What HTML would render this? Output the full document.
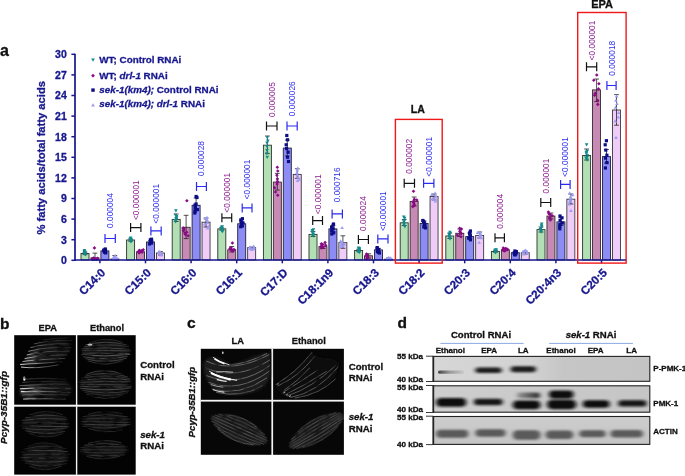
<!DOCTYPE html>
<html><head><meta charset="utf-8"><title>Figure</title>
<style>
html,body{margin:0;padding:0;background:#fff;}
body{width:685px;height:476px;overflow:hidden;}
svg{display:block;}
text{font-family:"Liberation Sans",sans-serif;}
.b{font-weight:bold;}
text.b[fill="#111"]{stroke:#111;stroke-width:.3px;}
text.b[fill="#17178f"]{stroke:#17178f;stroke-width:.3px;}
.i{font-style:italic;}
</style></head><body>
<svg width="685" height="476" viewBox="0 0 685 476">
<defs>
<filter id="bl1" x="-20%" y="-20%" width="140%" height="140%"><feGaussianBlur stdDeviation="0.6"/></filter>
<filter id="bl2" x="-20%" y="-50%" width="140%" height="200%"><feGaussianBlur stdDeviation="1.6"/></filter>
<filter id="bl3" x="-20%" y="-50%" width="140%" height="200%"><feGaussianBlur stdDeviation="2.0 1.0"/></filter>
</defs>
<rect width="685" height="476" fill="#fff"/>
<g id="panel-a">
<rect x="81.00" y="253.50" width="8" height="6.50" fill="#b2e0b4" stroke="#2c322c" stroke-width="0.9"/><rect x="90.95" y="257.90" width="8" height="2.10" fill="#c68ab4" stroke="#352830" stroke-width="0.9"/><rect x="100.90" y="250.90" width="8" height="9.10" fill="#8c8cf4" stroke="#20203c" stroke-width="0.9"/><rect x="110.85" y="259.00" width="8" height="1.00" fill="#f0cdf8" stroke="#3c3642" stroke-width="0.9"/><path d="M85.0 252.2V254.6M82.6 252.2h4.8M82.6 254.6h4.8" stroke="#1a1a1a" stroke-width="0.75" fill="none"/><path d="M82.6 249.1h3.6l-1.8 3.1z" fill="#128a8c"/><path d="M82.5 249.9h3.6l-1.8 3.1z" fill="#128a8c"/><path d="M83.0 250.6h3.6l-1.8 3.1z" fill="#128a8c"/><path d="M83.2 251.1h3.6l-1.8 3.1z" fill="#128a8c"/><path d="M83.1 251.9h3.6l-1.8 3.1z" fill="#128a8c"/><path d="M82.5 252.6h3.6l-1.8 3.1z" fill="#128a8c"/><path d="M83.7 253.5h3.6l-1.8 3.1z" fill="#128a8c"/><path d="M95.0 253.1V260.0M92.5 253.1h4.8M92.5 260.0h4.8" stroke="#1a1a1a" stroke-width="0.75" fill="none"/><path d="M93.4 256.2l1.8 1.8l-1.8 1.8l-1.8 -1.8z" fill="#8a0a86"/><path d="M97.5 256.5l1.8 1.8l-1.8 1.8l-1.8 -1.8z" fill="#8a0a86"/><path d="M94.4 256.7l1.8 1.8l-1.8 1.8l-1.8 -1.8z" fill="#8a0a86"/><path d="M92.4 257.0l1.8 1.8l-1.8 1.8l-1.8 -1.8z" fill="#8a0a86"/><path d="M93.8 257.3l1.8 1.8l-1.8 1.8l-1.8 -1.8z" fill="#8a0a86"/><path d="M92.8 257.4l1.8 1.8l-1.8 1.8l-1.8 -1.8z" fill="#8a0a86"/><path d="M96.7 257.7l1.8 1.8l-1.8 1.8l-1.8 -1.8z" fill="#8a0a86"/><path d="M94.4 246.1l1.8 1.8l-1.8 1.8l-1.8 -1.8z" fill="#8a0a86"/><path d="M104.9 249.8V252.2M102.5 249.8h4.8M102.5 252.2h4.8" stroke="#1a1a1a" stroke-width="0.75" fill="none"/><rect x="103.7" y="247.4" width="3.2" height="3.2" fill="#0c0c86"/><rect x="103.4" y="248.0" width="3.2" height="3.2" fill="#0c0c86"/><rect x="102.1" y="248.6" width="3.2" height="3.2" fill="#0c0c86"/><rect x="103.8" y="249.3" width="3.2" height="3.2" fill="#0c0c86"/><rect x="102.8" y="250.0" width="3.2" height="3.2" fill="#0c0c86"/><rect x="103.2" y="250.8" width="3.2" height="3.2" fill="#0c0c86"/><rect x="104.1" y="251.3" width="3.2" height="3.2" fill="#0c0c86"/><path d="M114.8 255.5V260.0M112.4 255.5h4.8M112.4 260.0h4.8" stroke="#1a1a1a" stroke-width="0.75" fill="none"/><path d="M111.8 258.5h3.6l-1.8 -3.1z" fill="#9c9cf2"/><path d="M113.2 258.9h3.6l-1.8 -3.1z" fill="#9c9cf2"/><path d="M114.2 259.4h3.6l-1.8 -3.1z" fill="#9c9cf2"/><path d="M115.4 259.6h3.6l-1.8 -3.1z" fill="#9c9cf2"/><path d="M112.7 260.0h3.6l-1.8 -3.1z" fill="#9c9cf2"/><path d="M111.4 260.6h3.6l-1.8 -3.1z" fill="#9c9cf2"/><path d="M110.8 260.9h3.6l-1.8 -3.1z" fill="#9c9cf2"/><path d="M113.3 256.9h3.6l-1.8 -3.1z" fill="#9c9cf2"/>
<rect x="126.60" y="240.00" width="8" height="20.00" fill="#b2e0b4" stroke="#2c322c" stroke-width="0.9"/><rect x="136.55" y="251.80" width="8" height="8.20" fill="#c68ab4" stroke="#352830" stroke-width="0.9"/><rect x="146.50" y="242.00" width="8" height="18.00" fill="#8c8cf4" stroke="#20203c" stroke-width="0.9"/><rect x="156.45" y="253.00" width="8" height="7.00" fill="#f0cdf8" stroke="#3c3642" stroke-width="0.9"/><path d="M130.6 239.0V241.2M128.2 239.0h4.8M128.2 241.2h4.8" stroke="#1a1a1a" stroke-width="0.75" fill="none"/><path d="M128.9 236.5h3.6l-1.8 3.1z" fill="#128a8c"/><path d="M128.5 237.2h3.6l-1.8 3.1z" fill="#128a8c"/><path d="M129.0 237.8h3.6l-1.8 3.1z" fill="#128a8c"/><path d="M128.7 238.5h3.6l-1.8 3.1z" fill="#128a8c"/><path d="M129.5 239.3h3.6l-1.8 3.1z" fill="#128a8c"/><path d="M129.1 239.8h3.6l-1.8 3.1z" fill="#128a8c"/><path d="M129.1 240.4h3.6l-1.8 3.1z" fill="#128a8c"/><path d="M140.5 250.4V252.4M138.1 250.4h4.8M138.1 252.4h4.8" stroke="#1a1a1a" stroke-width="0.75" fill="none"/><path d="M143.3 248.0l1.8 1.8l-1.8 1.8l-1.8 -1.8z" fill="#8a0a86"/><path d="M139.3 248.6l1.8 1.8l-1.8 1.8l-1.8 -1.8z" fill="#8a0a86"/><path d="M141.5 249.0l1.8 1.8l-1.8 1.8l-1.8 -1.8z" fill="#8a0a86"/><path d="M140.3 249.4l1.8 1.8l-1.8 1.8l-1.8 -1.8z" fill="#8a0a86"/><path d="M138.4 250.0l1.8 1.8l-1.8 1.8l-1.8 -1.8z" fill="#8a0a86"/><path d="M142.1 250.5l1.8 1.8l-1.8 1.8l-1.8 -1.8z" fill="#8a0a86"/><path d="M139.1 251.1l1.8 1.8l-1.8 1.8l-1.8 -1.8z" fill="#8a0a86"/><path d="M150.5 240.4V242.8M148.1 240.4h4.8M148.1 242.8h4.8" stroke="#1a1a1a" stroke-width="0.75" fill="none"/><rect x="149.9" y="237.6" width="3.2" height="3.2" fill="#0c0c86"/><rect x="148.8" y="238.2" width="3.2" height="3.2" fill="#0c0c86"/><rect x="150.0" y="239.2" width="3.2" height="3.2" fill="#0c0c86"/><rect x="149.9" y="240.2" width="3.2" height="3.2" fill="#0c0c86"/><rect x="148.7" y="240.7" width="3.2" height="3.2" fill="#0c0c86"/><rect x="150.0" y="241.5" width="3.2" height="3.2" fill="#0c0c86"/><rect x="147.9" y="242.4" width="3.2" height="3.2" fill="#0c0c86"/><path d="M160.4 251.5V255.0M158.0 251.5h4.8M158.0 255.0h4.8" stroke="#1a1a1a" stroke-width="0.75" fill="none"/><path d="M157.4 252.9h3.6l-1.8 -3.1z" fill="#9c9cf2"/><path d="M158.6 253.4h3.6l-1.8 -3.1z" fill="#9c9cf2"/><path d="M157.5 254.1h3.6l-1.8 -3.1z" fill="#9c9cf2"/><path d="M158.3 254.5h3.6l-1.8 -3.1z" fill="#9c9cf2"/><path d="M159.0 255.2h3.6l-1.8 -3.1z" fill="#9c9cf2"/><path d="M159.6 256.0h3.6l-1.8 -3.1z" fill="#9c9cf2"/><path d="M159.2 256.4h3.6l-1.8 -3.1z" fill="#9c9cf2"/>
<rect x="172.20" y="219.40" width="8" height="40.60" fill="#b2e0b4" stroke="#2c322c" stroke-width="0.9"/><rect x="182.15" y="227.30" width="8" height="32.70" fill="#c68ab4" stroke="#352830" stroke-width="0.9"/><rect x="192.10" y="205.30" width="8" height="54.70" fill="#8c8cf4" stroke="#20203c" stroke-width="0.9"/><rect x="202.05" y="222.20" width="8" height="37.80" fill="#f0cdf8" stroke="#3c3642" stroke-width="0.9"/><path d="M176.2 214.0V221.5M173.8 214.0h4.8M173.8 221.5h4.8" stroke="#1a1a1a" stroke-width="0.75" fill="none"/><path d="M173.7 213.7h3.6l-1.8 3.1z" fill="#128a8c"/><path d="M174.8 215.0h3.6l-1.8 3.1z" fill="#128a8c"/><path d="M174.9 216.2h3.6l-1.8 3.1z" fill="#128a8c"/><path d="M174.2 217.0h3.6l-1.8 3.1z" fill="#128a8c"/><path d="M174.6 217.9h3.6l-1.8 3.1z" fill="#128a8c"/><path d="M173.7 219.1h3.6l-1.8 3.1z" fill="#128a8c"/><path d="M173.9 220.4h3.6l-1.8 3.1z" fill="#128a8c"/><path d="M174.1 209.3h3.6l-1.8 3.1z" fill="#128a8c"/><path d="M186.1 215.3V238.6M183.7 215.3h4.8M183.7 238.6h4.8" stroke="#1a1a1a" stroke-width="0.75" fill="none"/><path d="M183.4 226.2l1.8 1.8l-1.8 1.8l-1.8 -1.8z" fill="#8a0a86"/><path d="M183.9 227.3l1.8 1.8l-1.8 1.8l-1.8 -1.8z" fill="#8a0a86"/><path d="M183.5 228.8l1.8 1.8l-1.8 1.8l-1.8 -1.8z" fill="#8a0a86"/><path d="M186.8 230.5l1.8 1.8l-1.8 1.8l-1.8 -1.8z" fill="#8a0a86"/><path d="M184.8 231.3l1.8 1.8l-1.8 1.8l-1.8 -1.8z" fill="#8a0a86"/><path d="M185.4 232.7l1.8 1.8l-1.8 1.8l-1.8 -1.8z" fill="#8a0a86"/><path d="M188.1 233.9l1.8 1.8l-1.8 1.8l-1.8 -1.8z" fill="#8a0a86"/><path d="M186.9 198.9l1.8 1.8l-1.8 1.8l-1.8 -1.8z" fill="#8a0a86"/><path d="M196.1 198.0V210.5M193.7 198.0h4.8M193.7 210.5h4.8" stroke="#1a1a1a" stroke-width="0.75" fill="none"/><rect x="194.5" y="202.4" width="3.2" height="3.2" fill="#0c0c86"/><rect x="193.4" y="203.5" width="3.2" height="3.2" fill="#0c0c86"/><rect x="193.8" y="205.3" width="3.2" height="3.2" fill="#0c0c86"/><rect x="193.6" y="207.2" width="3.2" height="3.2" fill="#0c0c86"/><rect x="195.8" y="208.0" width="3.2" height="3.2" fill="#0c0c86"/><rect x="193.5" y="209.9" width="3.2" height="3.2" fill="#0c0c86"/><rect x="193.2" y="211.4" width="3.2" height="3.2" fill="#0c0c86"/><rect x="194.5" y="194.9" width="3.2" height="3.2" fill="#0c0c86"/><rect x="195.3" y="195.9" width="3.2" height="3.2" fill="#0c0c86"/><path d="M206.0 218.0V227.0M203.6 218.0h4.8M203.6 227.0h4.8" stroke="#1a1a1a" stroke-width="0.75" fill="none"/><path d="M205.2 218.8h3.6l-1.8 -3.1z" fill="#9c9cf2"/><path d="M203.6 220.0h3.6l-1.8 -3.1z" fill="#9c9cf2"/><path d="M205.6 221.7h3.6l-1.8 -3.1z" fill="#9c9cf2"/><path d="M205.6 224.0h3.6l-1.8 -3.1z" fill="#9c9cf2"/><path d="M202.9 225.6h3.6l-1.8 -3.1z" fill="#9c9cf2"/><path d="M206.6 227.9h3.6l-1.8 -3.1z" fill="#9c9cf2"/><path d="M205.7 229.4h3.6l-1.8 -3.1z" fill="#9c9cf2"/>
<rect x="217.80" y="228.90" width="8" height="31.10" fill="#b2e0b4" stroke="#2c322c" stroke-width="0.9"/><rect x="227.75" y="249.80" width="8" height="10.20" fill="#c68ab4" stroke="#352830" stroke-width="0.9"/><rect x="237.70" y="223.80" width="8" height="36.20" fill="#8c8cf4" stroke="#20203c" stroke-width="0.9"/><rect x="247.65" y="247.60" width="8" height="12.40" fill="#f0cdf8" stroke="#3c3642" stroke-width="0.9"/><path d="M221.8 227.8V230.0M219.4 227.8h4.8M219.4 230.0h4.8" stroke="#1a1a1a" stroke-width="0.75" fill="none"/><path d="M220.4 225.2h3.6l-1.8 3.1z" fill="#128a8c"/><path d="M220.0 225.8h3.6l-1.8 3.1z" fill="#128a8c"/><path d="M219.2 226.7h3.6l-1.8 3.1z" fill="#128a8c"/><path d="M219.6 227.3h3.6l-1.8 3.1z" fill="#128a8c"/><path d="M220.3 228.3h3.6l-1.8 3.1z" fill="#128a8c"/><path d="M219.9 229.5h3.6l-1.8 3.1z" fill="#128a8c"/><path d="M220.8 230.1h3.6l-1.8 3.1z" fill="#128a8c"/><path d="M231.8 246.5V252.0M229.3 246.5h4.8M229.3 252.0h4.8" stroke="#1a1a1a" stroke-width="0.75" fill="none"/><path d="M231.0 246.3l1.8 1.8l-1.8 1.8l-1.8 -1.8z" fill="#8a0a86"/><path d="M230.2 246.6l1.8 1.8l-1.8 1.8l-1.8 -1.8z" fill="#8a0a86"/><path d="M230.1 247.1l1.8 1.8l-1.8 1.8l-1.8 -1.8z" fill="#8a0a86"/><path d="M234.0 247.7l1.8 1.8l-1.8 1.8l-1.8 -1.8z" fill="#8a0a86"/><path d="M231.6 248.3l1.8 1.8l-1.8 1.8l-1.8 -1.8z" fill="#8a0a86"/><path d="M233.4 248.7l1.8 1.8l-1.8 1.8l-1.8 -1.8z" fill="#8a0a86"/><path d="M232.6 249.1l1.8 1.8l-1.8 1.8l-1.8 -1.8z" fill="#8a0a86"/><path d="M232.4 241.2l1.8 1.8l-1.8 1.8l-1.8 -1.8z" fill="#8a0a86"/><path d="M241.7 222.0V226.5M239.3 222.0h4.8M239.3 226.5h4.8" stroke="#1a1a1a" stroke-width="0.75" fill="none"/><rect x="240.8" y="217.1" width="3.2" height="3.2" fill="#0c0c86"/><rect x="239.2" y="218.3" width="3.2" height="3.2" fill="#0c0c86"/><rect x="239.6" y="220.0" width="3.2" height="3.2" fill="#0c0c86"/><rect x="241.4" y="221.4" width="3.2" height="3.2" fill="#0c0c86"/><rect x="239.8" y="222.5" width="3.2" height="3.2" fill="#0c0c86"/><rect x="240.7" y="224.4" width="3.2" height="3.2" fill="#0c0c86"/><rect x="239.1" y="225.1" width="3.2" height="3.2" fill="#0c0c86"/><path d="M251.7 247.0V249.0M249.2 247.0h4.8M249.2 249.0h4.8" stroke="#1a1a1a" stroke-width="0.75" fill="none"/><path d="M251.8 247.6h3.6l-1.8 -3.1z" fill="#9c9cf2"/><path d="M248.2 248.3h3.6l-1.8 -3.1z" fill="#9c9cf2"/><path d="M252.2 248.8h3.6l-1.8 -3.1z" fill="#9c9cf2"/><path d="M249.1 249.3h3.6l-1.8 -3.1z" fill="#9c9cf2"/><path d="M248.1 249.9h3.6l-1.8 -3.1z" fill="#9c9cf2"/><path d="M252.1 250.2h3.6l-1.8 -3.1z" fill="#9c9cf2"/><path d="M250.0 250.9h3.6l-1.8 -3.1z" fill="#9c9cf2"/>
<rect x="263.40" y="145.20" width="8" height="114.80" fill="#b2e0b4" stroke="#2c322c" stroke-width="0.9"/><rect x="273.35" y="182.10" width="8" height="77.90" fill="#c68ab4" stroke="#352830" stroke-width="0.9"/><rect x="283.30" y="148.10" width="8" height="111.90" fill="#8c8cf4" stroke="#20203c" stroke-width="0.9"/><rect x="293.25" y="174.40" width="8" height="85.60" fill="#f0cdf8" stroke="#3c3642" stroke-width="0.9"/><path d="M267.4 136.0V153.6M265.0 136.0h4.8M265.0 153.6h4.8" stroke="#1a1a1a" stroke-width="0.75" fill="none"/><path d="M265.5 136.2h3.6l-1.8 3.1z" fill="#128a8c"/><path d="M266.1 139.5h3.6l-1.8 3.1z" fill="#128a8c"/><path d="M265.2 141.6h3.6l-1.8 3.1z" fill="#128a8c"/><path d="M265.2 145.1h3.6l-1.8 3.1z" fill="#128a8c"/><path d="M265.2 149.1h3.6l-1.8 3.1z" fill="#128a8c"/><path d="M265.0 152.2h3.6l-1.8 3.1z" fill="#128a8c"/><path d="M265.4 155.8h3.6l-1.8 3.1z" fill="#128a8c"/><path d="M277.3 173.4V190.1M274.9 173.4h4.8M274.9 190.1h4.8" stroke="#1a1a1a" stroke-width="0.75" fill="none"/><path d="M277.8 169.2l1.8 1.8l-1.8 1.8l-1.8 -1.8z" fill="#8a0a86"/><path d="M276.9 173.5l1.8 1.8l-1.8 1.8l-1.8 -1.8z" fill="#8a0a86"/><path d="M277.4 177.1l1.8 1.8l-1.8 1.8l-1.8 -1.8z" fill="#8a0a86"/><path d="M277.5 179.8l1.8 1.8l-1.8 1.8l-1.8 -1.8z" fill="#8a0a86"/><path d="M277.0 182.2l1.8 1.8l-1.8 1.8l-1.8 -1.8z" fill="#8a0a86"/><path d="M274.6 186.0l1.8 1.8l-1.8 1.8l-1.8 -1.8z" fill="#8a0a86"/><path d="M275.5 190.2l1.8 1.8l-1.8 1.8l-1.8 -1.8z" fill="#8a0a86"/><path d="M277.3 165.5l1.8 1.8l-1.8 1.8l-1.8 -1.8z" fill="#8a0a86"/><path d="M277.7 193.4l1.8 1.8l-1.8 1.8l-1.8 -1.8z" fill="#8a0a86"/><path d="M287.3 140.0V156.0M284.9 140.0h4.8M284.9 156.0h4.8" stroke="#1a1a1a" stroke-width="0.75" fill="none"/><rect x="285.2" y="133.9" width="3.2" height="3.2" fill="#0c0c86"/><rect x="285.9" y="138.2" width="3.2" height="3.2" fill="#0c0c86"/><rect x="284.6" y="143.2" width="3.2" height="3.2" fill="#0c0c86"/><rect x="285.0" y="147.0" width="3.2" height="3.2" fill="#0c0c86"/><rect x="286.5" y="150.6" width="3.2" height="3.2" fill="#0c0c86"/><rect x="285.9" y="155.6" width="3.2" height="3.2" fill="#0c0c86"/><rect x="286.9" y="159.9" width="3.2" height="3.2" fill="#0c0c86"/><path d="M297.2 168.7V178.4M294.9 168.7h4.8M294.9 178.4h4.8" stroke="#1a1a1a" stroke-width="0.75" fill="none"/><path d="M296.0 169.4h3.6l-1.8 -3.1z" fill="#9c9cf2"/><path d="M295.5 171.6h3.6l-1.8 -3.1z" fill="#9c9cf2"/><path d="M295.2 174.0h3.6l-1.8 -3.1z" fill="#9c9cf2"/><path d="M295.3 176.0h3.6l-1.8 -3.1z" fill="#9c9cf2"/><path d="M296.4 178.7h3.6l-1.8 -3.1z" fill="#9c9cf2"/><path d="M297.6 180.8h3.6l-1.8 -3.1z" fill="#9c9cf2"/><path d="M295.7 182.1h3.6l-1.8 -3.1z" fill="#9c9cf2"/>
<rect x="309.00" y="234.40" width="8" height="25.60" fill="#b2e0b4" stroke="#2c322c" stroke-width="0.9"/><rect x="318.95" y="246.60" width="8" height="13.40" fill="#c68ab4" stroke="#352830" stroke-width="0.9"/><rect x="328.90" y="228.90" width="8" height="31.10" fill="#8c8cf4" stroke="#20203c" stroke-width="0.9"/><rect x="338.85" y="242.60" width="8" height="17.40" fill="#f0cdf8" stroke="#3c3642" stroke-width="0.9"/><path d="M313.0 231.5V236.5M310.6 231.5h4.8M310.6 236.5h4.8" stroke="#1a1a1a" stroke-width="0.75" fill="none"/><path d="M311.7 228.3h3.6l-1.8 3.1z" fill="#128a8c"/><path d="M310.6 228.9h3.6l-1.8 3.1z" fill="#128a8c"/><path d="M310.5 230.2h3.6l-1.8 3.1z" fill="#128a8c"/><path d="M310.5 231.1h3.6l-1.8 3.1z" fill="#128a8c"/><path d="M311.7 232.5h3.6l-1.8 3.1z" fill="#128a8c"/><path d="M310.6 233.7h3.6l-1.8 3.1z" fill="#128a8c"/><path d="M311.5 234.6h3.6l-1.8 3.1z" fill="#128a8c"/><path d="M322.9 244.0V248.5M320.6 244.0h4.8M320.6 248.5h4.8" stroke="#1a1a1a" stroke-width="0.75" fill="none"/><path d="M325.1 240.7l1.8 1.8l-1.8 1.8l-1.8 -1.8z" fill="#8a0a86"/><path d="M321.4 241.9l1.8 1.8l-1.8 1.8l-1.8 -1.8z" fill="#8a0a86"/><path d="M322.4 242.8l1.8 1.8l-1.8 1.8l-1.8 -1.8z" fill="#8a0a86"/><path d="M325.7 243.4l1.8 1.8l-1.8 1.8l-1.8 -1.8z" fill="#8a0a86"/><path d="M321.1 244.5l1.8 1.8l-1.8 1.8l-1.8 -1.8z" fill="#8a0a86"/><path d="M323.0 245.2l1.8 1.8l-1.8 1.8l-1.8 -1.8z" fill="#8a0a86"/><path d="M321.2 246.1l1.8 1.8l-1.8 1.8l-1.8 -1.8z" fill="#8a0a86"/><path d="M332.9 225.5V232.0M330.5 225.5h4.8M330.5 232.0h4.8" stroke="#1a1a1a" stroke-width="0.75" fill="none"/><rect x="331.9" y="222.4" width="3.2" height="3.2" fill="#0c0c86"/><rect x="331.5" y="223.6" width="3.2" height="3.2" fill="#0c0c86"/><rect x="330.0" y="225.7" width="3.2" height="3.2" fill="#0c0c86"/><rect x="331.6" y="227.2" width="3.2" height="3.2" fill="#0c0c86"/><rect x="330.1" y="229.1" width="3.2" height="3.2" fill="#0c0c86"/><rect x="332.1" y="231.2" width="3.2" height="3.2" fill="#0c0c86"/><rect x="330.2" y="232.4" width="3.2" height="3.2" fill="#0c0c86"/><path d="M342.9 235.8V248.3M340.5 235.8h4.8M340.5 248.3h4.8" stroke="#1a1a1a" stroke-width="0.75" fill="none"/><path d="M338.8 242.4h3.6l-1.8 -3.1z" fill="#9c9cf2"/><path d="M339.9 243.5h3.6l-1.8 -3.1z" fill="#9c9cf2"/><path d="M340.7 244.1h3.6l-1.8 -3.1z" fill="#9c9cf2"/><path d="M342.6 245.4h3.6l-1.8 -3.1z" fill="#9c9cf2"/><path d="M339.4 246.0h3.6l-1.8 -3.1z" fill="#9c9cf2"/><path d="M341.4 247.3h3.6l-1.8 -3.1z" fill="#9c9cf2"/><path d="M339.1 247.9h3.6l-1.8 -3.1z" fill="#9c9cf2"/><path d="M340.3 229.1h3.6l-1.8 -3.1z" fill="#9c9cf2"/>
<rect x="354.60" y="250.50" width="8" height="9.50" fill="#b2e0b4" stroke="#2c322c" stroke-width="0.9"/><rect x="364.55" y="255.80" width="8" height="4.20" fill="#c68ab4" stroke="#352830" stroke-width="0.9"/><rect x="374.50" y="249.90" width="8" height="10.10" fill="#8c8cf4" stroke="#20203c" stroke-width="0.9"/><rect x="384.45" y="259.20" width="8" height="0.80" fill="#f0cdf8" stroke="#3c3642" stroke-width="0.9"/><path d="M358.6 249.3V251.8M356.2 249.3h4.8M356.2 251.8h4.8" stroke="#1a1a1a" stroke-width="0.75" fill="none"/><path d="M356.7 246.6h3.6l-1.8 3.1z" fill="#128a8c"/><path d="M357.5 247.1h3.6l-1.8 3.1z" fill="#128a8c"/><path d="M357.3 248.1h3.6l-1.8 3.1z" fill="#128a8c"/><path d="M357.4 248.6h3.6l-1.8 3.1z" fill="#128a8c"/><path d="M357.4 249.4h3.6l-1.8 3.1z" fill="#128a8c"/><path d="M356.5 250.3h3.6l-1.8 3.1z" fill="#128a8c"/><path d="M357.5 251.1h3.6l-1.8 3.1z" fill="#128a8c"/><path d="M368.6 253.8V258.0M366.2 253.8h4.8M366.2 258.0h4.8" stroke="#1a1a1a" stroke-width="0.75" fill="none"/><path d="M366.5 252.2l1.8 1.8l-1.8 1.8l-1.8 -1.8z" fill="#8a0a86"/><path d="M367.1 253.0l1.8 1.8l-1.8 1.8l-1.8 -1.8z" fill="#8a0a86"/><path d="M366.7 253.7l1.8 1.8l-1.8 1.8l-1.8 -1.8z" fill="#8a0a86"/><path d="M366.9 254.5l1.8 1.8l-1.8 1.8l-1.8 -1.8z" fill="#8a0a86"/><path d="M367.5 255.4l1.8 1.8l-1.8 1.8l-1.8 -1.8z" fill="#8a0a86"/><path d="M367.4 256.5l1.8 1.8l-1.8 1.8l-1.8 -1.8z" fill="#8a0a86"/><path d="M366.7 257.2l1.8 1.8l-1.8 1.8l-1.8 -1.8z" fill="#8a0a86"/><path d="M378.5 248.4V251.2M376.1 248.4h4.8M376.1 251.2h4.8" stroke="#1a1a1a" stroke-width="0.75" fill="none"/><rect x="375.6" y="246.0" width="3.2" height="3.2" fill="#0c0c86"/><rect x="375.5" y="246.8" width="3.2" height="3.2" fill="#0c0c86"/><rect x="377.0" y="247.9" width="3.2" height="3.2" fill="#0c0c86"/><rect x="376.8" y="248.5" width="3.2" height="3.2" fill="#0c0c86"/><rect x="375.8" y="249.8" width="3.2" height="3.2" fill="#0c0c86"/><rect x="376.7" y="250.7" width="3.2" height="3.2" fill="#0c0c86"/><rect x="377.8" y="251.4" width="3.2" height="3.2" fill="#0c0c86"/><path d="M388.5 258.0V260.0M386.1 258.0h4.8M386.1 260.0h4.8" stroke="#1a1a1a" stroke-width="0.75" fill="none"/><path d="M386.7 258.9h3.6l-1.8 -3.1z" fill="#9c9cf2"/><path d="M389.0 259.4h3.6l-1.8 -3.1z" fill="#9c9cf2"/><path d="M388.2 259.7h3.6l-1.8 -3.1z" fill="#9c9cf2"/><path d="M387.3 260.1h3.6l-1.8 -3.1z" fill="#9c9cf2"/><path d="M385.9 260.5h3.6l-1.8 -3.1z" fill="#9c9cf2"/><path d="M384.9 260.8h3.6l-1.8 -3.1z" fill="#9c9cf2"/><path d="M387.8 260.9h3.6l-1.8 -3.1z" fill="#9c9cf2"/>
<rect x="400.20" y="222.80" width="8" height="37.20" fill="#b2e0b4" stroke="#2c322c" stroke-width="0.9"/><rect x="410.15" y="201.40" width="8" height="58.60" fill="#c68ab4" stroke="#352830" stroke-width="0.9"/><rect x="420.10" y="223.40" width="8" height="36.60" fill="#8c8cf4" stroke="#20203c" stroke-width="0.9"/><rect x="430.05" y="196.50" width="8" height="63.50" fill="#f0cdf8" stroke="#3c3642" stroke-width="0.9"/><path d="M404.2 219.5V225.5M401.8 219.5h4.8M401.8 225.5h4.8" stroke="#1a1a1a" stroke-width="0.75" fill="none"/><path d="M401.9 215.6h3.6l-1.8 3.1z" fill="#128a8c"/><path d="M402.9 216.8h3.6l-1.8 3.1z" fill="#128a8c"/><path d="M402.7 219.3h3.6l-1.8 3.1z" fill="#128a8c"/><path d="M402.0 220.3h3.6l-1.8 3.1z" fill="#128a8c"/><path d="M402.3 222.0h3.6l-1.8 3.1z" fill="#128a8c"/><path d="M402.3 223.6h3.6l-1.8 3.1z" fill="#128a8c"/><path d="M403.1 225.3h3.6l-1.8 3.1z" fill="#128a8c"/><path d="M414.1 197.0V206.0M411.8 197.0h4.8M411.8 206.0h4.8" stroke="#1a1a1a" stroke-width="0.75" fill="none"/><path d="M414.4 197.6l1.8 1.8l-1.8 1.8l-1.8 -1.8z" fill="#8a0a86"/><path d="M416.8 198.3l1.8 1.8l-1.8 1.8l-1.8 -1.8z" fill="#8a0a86"/><path d="M413.3 199.7l1.8 1.8l-1.8 1.8l-1.8 -1.8z" fill="#8a0a86"/><path d="M413.5 200.8l1.8 1.8l-1.8 1.8l-1.8 -1.8z" fill="#8a0a86"/><path d="M414.2 202.5l1.8 1.8l-1.8 1.8l-1.8 -1.8z" fill="#8a0a86"/><path d="M414.2 203.6l1.8 1.8l-1.8 1.8l-1.8 -1.8z" fill="#8a0a86"/><path d="M412.8 204.8l1.8 1.8l-1.8 1.8l-1.8 -1.8z" fill="#8a0a86"/><path d="M413.5 189.4l1.8 1.8l-1.8 1.8l-1.8 -1.8z" fill="#8a0a86"/><path d="M424.1 221.0V225.0M421.7 221.0h4.8M421.7 225.0h4.8" stroke="#1a1a1a" stroke-width="0.75" fill="none"/><rect x="421.2" y="218.9" width="3.2" height="3.2" fill="#0c0c86"/><rect x="422.0" y="219.8" width="3.2" height="3.2" fill="#0c0c86"/><rect x="422.7" y="221.2" width="3.2" height="3.2" fill="#0c0c86"/><rect x="423.2" y="222.7" width="3.2" height="3.2" fill="#0c0c86"/><rect x="423.1" y="224.0" width="3.2" height="3.2" fill="#0c0c86"/><rect x="422.2" y="225.4" width="3.2" height="3.2" fill="#0c0c86"/><rect x="423.9" y="226.3" width="3.2" height="3.2" fill="#0c0c86"/><path d="M434.1 194.0V200.0M431.7 194.0h4.8M431.7 200.0h4.8" stroke="#1a1a1a" stroke-width="0.75" fill="none"/><path d="M433.3 194.4h3.6l-1.8 -3.1z" fill="#9c9cf2"/><path d="M430.1 195.9h3.6l-1.8 -3.1z" fill="#9c9cf2"/><path d="M434.1 197.4h3.6l-1.8 -3.1z" fill="#9c9cf2"/><path d="M433.4 198.5h3.6l-1.8 -3.1z" fill="#9c9cf2"/><path d="M430.5 200.0h3.6l-1.8 -3.1z" fill="#9c9cf2"/><path d="M432.3 201.1h3.6l-1.8 -3.1z" fill="#9c9cf2"/><path d="M433.7 202.4h3.6l-1.8 -3.1z" fill="#9c9cf2"/>
<rect x="445.80" y="236.00" width="8" height="24.00" fill="#b2e0b4" stroke="#2c322c" stroke-width="0.9"/><rect x="455.75" y="233.30" width="8" height="26.70" fill="#c68ab4" stroke="#352830" stroke-width="0.9"/><rect x="465.70" y="236.60" width="8" height="23.40" fill="#8c8cf4" stroke="#20203c" stroke-width="0.9"/><rect x="475.65" y="235.50" width="8" height="24.50" fill="#f0cdf8" stroke="#3c3642" stroke-width="0.9"/><path d="M449.8 233.0V238.5M447.4 233.0h4.8M447.4 238.5h4.8" stroke="#1a1a1a" stroke-width="0.75" fill="none"/><path d="M448.1 230.8h3.6l-1.8 3.1z" fill="#128a8c"/><path d="M448.3 232.0h3.6l-1.8 3.1z" fill="#128a8c"/><path d="M447.6 233.0h3.6l-1.8 3.1z" fill="#128a8c"/><path d="M447.4 233.7h3.6l-1.8 3.1z" fill="#128a8c"/><path d="M447.4 235.1h3.6l-1.8 3.1z" fill="#128a8c"/><path d="M448.1 236.6h3.6l-1.8 3.1z" fill="#128a8c"/><path d="M448.2 237.6h3.6l-1.8 3.1z" fill="#128a8c"/><path d="M459.8 229.0V236.5M457.4 229.0h4.8M457.4 236.5h4.8" stroke="#1a1a1a" stroke-width="0.75" fill="none"/><path d="M459.7 226.4l1.8 1.8l-1.8 1.8l-1.8 -1.8z" fill="#8a0a86"/><path d="M461.4 227.3l1.8 1.8l-1.8 1.8l-1.8 -1.8z" fill="#8a0a86"/><path d="M459.8 229.4l1.8 1.8l-1.8 1.8l-1.8 -1.8z" fill="#8a0a86"/><path d="M460.6 230.7l1.8 1.8l-1.8 1.8l-1.8 -1.8z" fill="#8a0a86"/><path d="M461.1 231.8l1.8 1.8l-1.8 1.8l-1.8 -1.8z" fill="#8a0a86"/><path d="M457.4 233.5l1.8 1.8l-1.8 1.8l-1.8 -1.8z" fill="#8a0a86"/><path d="M461.0 235.0l1.8 1.8l-1.8 1.8l-1.8 -1.8z" fill="#8a0a86"/><path d="M469.7 233.0V239.0M467.3 233.0h4.8M467.3 239.0h4.8" stroke="#1a1a1a" stroke-width="0.75" fill="none"/><rect x="468.8" y="229.4" width="3.2" height="3.2" fill="#0c0c86"/><rect x="468.1" y="231.3" width="3.2" height="3.2" fill="#0c0c86"/><rect x="468.0" y="232.3" width="3.2" height="3.2" fill="#0c0c86"/><rect x="468.8" y="234.1" width="3.2" height="3.2" fill="#0c0c86"/><rect x="468.5" y="235.5" width="3.2" height="3.2" fill="#0c0c86"/><rect x="467.1" y="236.5" width="3.2" height="3.2" fill="#0c0c86"/><rect x="468.8" y="238.2" width="3.2" height="3.2" fill="#0c0c86"/><path d="M479.7 232.0V238.0M477.3 232.0h4.8M477.3 238.0h4.8" stroke="#1a1a1a" stroke-width="0.75" fill="none"/><path d="M478.2 233.4h3.6l-1.8 -3.1z" fill="#9c9cf2"/><path d="M475.7 234.1h3.6l-1.8 -3.1z" fill="#9c9cf2"/><path d="M478.7 235.3h3.6l-1.8 -3.1z" fill="#9c9cf2"/><path d="M478.7 236.6h3.6l-1.8 -3.1z" fill="#9c9cf2"/><path d="M477.9 237.3h3.6l-1.8 -3.1z" fill="#9c9cf2"/><path d="M477.7 238.4h3.6l-1.8 -3.1z" fill="#9c9cf2"/><path d="M479.7 239.2h3.6l-1.8 -3.1z" fill="#9c9cf2"/><path d="M477.4 243.8h3.6l-1.8 -3.1z" fill="#9c9cf2"/>
<rect x="491.40" y="251.40" width="8" height="8.60" fill="#b2e0b4" stroke="#2c322c" stroke-width="0.9"/><rect x="501.35" y="249.90" width="8" height="10.10" fill="#c68ab4" stroke="#352830" stroke-width="0.9"/><rect x="511.30" y="252.70" width="8" height="7.30" fill="#8c8cf4" stroke="#20203c" stroke-width="0.9"/><rect x="521.25" y="252.70" width="8" height="7.30" fill="#f0cdf8" stroke="#3c3642" stroke-width="0.9"/><path d="M495.4 250.2V252.2M493.0 250.2h4.8M493.0 252.2h4.8" stroke="#1a1a1a" stroke-width="0.75" fill="none"/><path d="M494.3 248.3h3.6l-1.8 3.1z" fill="#128a8c"/><path d="M493.5 248.6h3.6l-1.8 3.1z" fill="#128a8c"/><path d="M494.3 249.4h3.6l-1.8 3.1z" fill="#128a8c"/><path d="M493.2 249.8h3.6l-1.8 3.1z" fill="#128a8c"/><path d="M494.3 250.3h3.6l-1.8 3.1z" fill="#128a8c"/><path d="M493.7 250.9h3.6l-1.8 3.1z" fill="#128a8c"/><path d="M493.6 251.4h3.6l-1.8 3.1z" fill="#128a8c"/><path d="M505.4 248.6V250.6M503.0 248.6h4.8M503.0 250.6h4.8" stroke="#1a1a1a" stroke-width="0.75" fill="none"/><path d="M503.3 246.3l1.8 1.8l-1.8 1.8l-1.8 -1.8z" fill="#8a0a86"/><path d="M505.4 246.8l1.8 1.8l-1.8 1.8l-1.8 -1.8z" fill="#8a0a86"/><path d="M506.5 247.3l1.8 1.8l-1.8 1.8l-1.8 -1.8z" fill="#8a0a86"/><path d="M507.6 247.6l1.8 1.8l-1.8 1.8l-1.8 -1.8z" fill="#8a0a86"/><path d="M502.7 248.2l1.8 1.8l-1.8 1.8l-1.8 -1.8z" fill="#8a0a86"/><path d="M505.3 248.6l1.8 1.8l-1.8 1.8l-1.8 -1.8z" fill="#8a0a86"/><path d="M504.2 249.2l1.8 1.8l-1.8 1.8l-1.8 -1.8z" fill="#8a0a86"/><path d="M515.3 251.8V253.6M512.9 251.8h4.8M512.9 253.6h4.8" stroke="#1a1a1a" stroke-width="0.75" fill="none"/><rect x="513.3" y="249.4" width="3.2" height="3.2" fill="#0c0c86"/><rect x="514.7" y="250.0" width="3.2" height="3.2" fill="#0c0c86"/><rect x="514.4" y="250.5" width="3.2" height="3.2" fill="#0c0c86"/><rect x="512.6" y="251.5" width="3.2" height="3.2" fill="#0c0c86"/><rect x="514.3" y="252.2" width="3.2" height="3.2" fill="#0c0c86"/><rect x="513.1" y="252.9" width="3.2" height="3.2" fill="#0c0c86"/><rect x="513.4" y="253.3" width="3.2" height="3.2" fill="#0c0c86"/><path d="M525.2 251.2V254.0M522.9 251.2h4.8M522.9 254.0h4.8" stroke="#1a1a1a" stroke-width="0.75" fill="none"/><path d="M523.9 251.6h3.6l-1.8 -3.1z" fill="#9c9cf2"/><path d="M523.1 252.1h3.6l-1.8 -3.1z" fill="#9c9cf2"/><path d="M521.3 252.7h3.6l-1.8 -3.1z" fill="#9c9cf2"/><path d="M525.1 253.3h3.6l-1.8 -3.1z" fill="#9c9cf2"/><path d="M525.5 254.0h3.6l-1.8 -3.1z" fill="#9c9cf2"/><path d="M522.3 254.7h3.6l-1.8 -3.1z" fill="#9c9cf2"/><path d="M522.0 255.4h3.6l-1.8 -3.1z" fill="#9c9cf2"/>
<rect x="537.00" y="229.60" width="8" height="30.40" fill="#b2e0b4" stroke="#2c322c" stroke-width="0.9"/><rect x="546.95" y="216.10" width="8" height="43.90" fill="#c68ab4" stroke="#352830" stroke-width="0.9"/><rect x="556.90" y="221.90" width="8" height="38.10" fill="#8c8cf4" stroke="#20203c" stroke-width="0.9"/><rect x="566.85" y="199.20" width="8" height="60.80" fill="#f0cdf8" stroke="#3c3642" stroke-width="0.9"/><path d="M541.0 227.0V232.0M538.6 227.0h4.8M538.6 232.0h4.8" stroke="#1a1a1a" stroke-width="0.75" fill="none"/><path d="M539.9 222.6h3.6l-1.8 3.1z" fill="#128a8c"/><path d="M539.7 224.2h3.6l-1.8 3.1z" fill="#128a8c"/><path d="M539.9 225.3h3.6l-1.8 3.1z" fill="#128a8c"/><path d="M539.3 226.9h3.6l-1.8 3.1z" fill="#128a8c"/><path d="M538.5 228.1h3.6l-1.8 3.1z" fill="#128a8c"/><path d="M539.1 229.4h3.6l-1.8 3.1z" fill="#128a8c"/><path d="M539.4 230.6h3.6l-1.8 3.1z" fill="#128a8c"/><path d="M551.0 213.0V219.0M548.6 213.0h4.8M548.6 219.0h4.8" stroke="#1a1a1a" stroke-width="0.75" fill="none"/><path d="M548.4 210.2l1.8 1.8l-1.8 1.8l-1.8 -1.8z" fill="#8a0a86"/><path d="M548.9 211.9l1.8 1.8l-1.8 1.8l-1.8 -1.8z" fill="#8a0a86"/><path d="M550.1 212.8l1.8 1.8l-1.8 1.8l-1.8 -1.8z" fill="#8a0a86"/><path d="M552.3 214.0l1.8 1.8l-1.8 1.8l-1.8 -1.8z" fill="#8a0a86"/><path d="M549.6 215.9l1.8 1.8l-1.8 1.8l-1.8 -1.8z" fill="#8a0a86"/><path d="M549.8 217.0l1.8 1.8l-1.8 1.8l-1.8 -1.8z" fill="#8a0a86"/><path d="M550.4 218.2l1.8 1.8l-1.8 1.8l-1.8 -1.8z" fill="#8a0a86"/><path d="M560.9 217.5V225.5M558.5 217.5h4.8M558.5 225.5h4.8" stroke="#1a1a1a" stroke-width="0.75" fill="none"/><rect x="558.4" y="214.4" width="3.2" height="3.2" fill="#0c0c86"/><rect x="560.4" y="216.2" width="3.2" height="3.2" fill="#0c0c86"/><rect x="558.5" y="218.7" width="3.2" height="3.2" fill="#0c0c86"/><rect x="560.7" y="221.4" width="3.2" height="3.2" fill="#0c0c86"/><rect x="558.3" y="223.0" width="3.2" height="3.2" fill="#0c0c86"/><rect x="558.2" y="224.8" width="3.2" height="3.2" fill="#0c0c86"/><rect x="558.2" y="227.2" width="3.2" height="3.2" fill="#0c0c86"/><path d="M570.9 194.0V204.0M568.5 194.0h4.8M568.5 204.0h4.8" stroke="#1a1a1a" stroke-width="0.75" fill="none"/><path d="M567.9 194.4h3.6l-1.8 -3.1z" fill="#9c9cf2"/><path d="M570.9 196.3h3.6l-1.8 -3.1z" fill="#9c9cf2"/><path d="M568.6 198.4h3.6l-1.8 -3.1z" fill="#9c9cf2"/><path d="M569.2 199.8h3.6l-1.8 -3.1z" fill="#9c9cf2"/><path d="M568.3 201.6h3.6l-1.8 -3.1z" fill="#9c9cf2"/><path d="M568.0 203.1h3.6l-1.8 -3.1z" fill="#9c9cf2"/><path d="M567.3 205.4h3.6l-1.8 -3.1z" fill="#9c9cf2"/><path d="M569.1 211.9h3.6l-1.8 -3.1z" fill="#9c9cf2"/>
<rect x="582.60" y="155.50" width="8" height="104.50" fill="#b2e0b4" stroke="#2c322c" stroke-width="0.9"/><rect x="592.55" y="89.90" width="8" height="170.10" fill="#c68ab4" stroke="#352830" stroke-width="0.9"/><rect x="602.50" y="156.60" width="8" height="103.40" fill="#8c8cf4" stroke="#20203c" stroke-width="0.9"/><rect x="612.45" y="110.00" width="8" height="150.00" fill="#f0cdf8" stroke="#3c3642" stroke-width="0.9"/><path d="M586.6 149.0V160.0M584.2 149.0h4.8M584.2 160.0h4.8" stroke="#1a1a1a" stroke-width="0.75" fill="none"/><path d="M585.4 149.7h3.6l-1.8 3.1z" fill="#128a8c"/><path d="M584.4 150.8h3.6l-1.8 3.1z" fill="#128a8c"/><path d="M584.6 152.3h3.6l-1.8 3.1z" fill="#128a8c"/><path d="M585.5 154.0h3.6l-1.8 3.1z" fill="#128a8c"/><path d="M585.4 155.9h3.6l-1.8 3.1z" fill="#128a8c"/><path d="M584.1 156.6h3.6l-1.8 3.1z" fill="#128a8c"/><path d="M585.4 158.6h3.6l-1.8 3.1z" fill="#128a8c"/><path d="M584.8 143.3h3.6l-1.8 3.1z" fill="#128a8c"/><path d="M596.6 79.0V101.6M594.2 79.0h4.8M594.2 101.6h4.8" stroke="#1a1a1a" stroke-width="0.75" fill="none"/><path d="M593.8 78.4l1.8 1.8l-1.8 1.8l-1.8 -1.8z" fill="#8a0a86"/><path d="M598.9 82.0l1.8 1.8l-1.8 1.8l-1.8 -1.8z" fill="#8a0a86"/><path d="M598.5 87.1l1.8 1.8l-1.8 1.8l-1.8 -1.8z" fill="#8a0a86"/><path d="M595.1 91.6l1.8 1.8l-1.8 1.8l-1.8 -1.8z" fill="#8a0a86"/><path d="M594.6 93.5l1.8 1.8l-1.8 1.8l-1.8 -1.8z" fill="#8a0a86"/><path d="M597.6 98.6l1.8 1.8l-1.8 1.8l-1.8 -1.8z" fill="#8a0a86"/><path d="M597.8 102.6l1.8 1.8l-1.8 1.8l-1.8 -1.8z" fill="#8a0a86"/><path d="M596.8 73.2l1.8 1.8l-1.8 1.8l-1.8 -1.8z" fill="#8a0a86"/><path d="M606.5 149.5V163.0M604.1 149.5h4.8M604.1 163.0h4.8" stroke="#1a1a1a" stroke-width="0.75" fill="none"/><rect x="604.8" y="139.1" width="3.2" height="3.2" fill="#0c0c86"/><rect x="603.6" y="143.2" width="3.2" height="3.2" fill="#0c0c86"/><rect x="604.2" y="148.5" width="3.2" height="3.2" fill="#0c0c86"/><rect x="605.3" y="153.6" width="3.2" height="3.2" fill="#0c0c86"/><rect x="603.9" y="156.5" width="3.2" height="3.2" fill="#0c0c86"/><rect x="605.3" y="161.0" width="3.2" height="3.2" fill="#0c0c86"/><rect x="603.8" y="166.4" width="3.2" height="3.2" fill="#0c0c86"/><path d="M616.5 94.6V125.2M614.1 94.6h4.8M614.1 125.2h4.8" stroke="#1a1a1a" stroke-width="0.75" fill="none"/><path d="M614.8 97.4h3.6l-1.8 -3.1z" fill="#9c9cf2"/><path d="M614.1 101.8h3.6l-1.8 -3.1z" fill="#9c9cf2"/><path d="M615.1 105.1h3.6l-1.8 -3.1z" fill="#9c9cf2"/><path d="M613.7 108.7h3.6l-1.8 -3.1z" fill="#9c9cf2"/><path d="M616.9 114.0h3.6l-1.8 -3.1z" fill="#9c9cf2"/><path d="M616.5 118.6h3.6l-1.8 -3.1z" fill="#9c9cf2"/><path d="M613.4 122.4h3.6l-1.8 -3.1z" fill="#9c9cf2"/><path d="M614.2 138.9h3.6l-1.8 -3.1z" fill="#9c9cf2"/>
<path d="M105.0 238.5H115.3M105.0 234.0v9.0M115.3 234.0v9.0" stroke="#2a2af0" stroke-width="1.2" fill="none"/><text transform="translate(113.2 228.0) rotate(-90)" font-size="8.4" fill="#2a2af0">0.000004</text>
<path d="M130.6 227.6H140.9M130.6 223.1v9.0M140.9 223.1v9.0" stroke="#111" stroke-width="1.2" fill="none"/><text transform="translate(138.8 220.1) rotate(-90)" font-size="8.4" fill="#8c1a90">&lt;0.000001</text>
<path d="M150.9 230.9H161.2M150.9 226.4v9.0M161.2 226.4v9.0" stroke="#2a2af0" stroke-width="1.2" fill="none"/><text transform="translate(159.1 223.7) rotate(-90)" font-size="8.4" fill="#2a2af0">&lt;0.000001</text>
<path d="M196.5 186.5H206.4M196.5 182.0v9.0M206.4 182.0v9.0" stroke="#2a2af0" stroke-width="1.2" fill="none"/><text transform="translate(204.4 175.9) rotate(-90)" font-size="8.4" fill="#2a2af0">0.000028</text>
<path d="M221.9 217.8H231.7M221.9 213.3v9.0M231.7 213.3v9.0" stroke="#111" stroke-width="1.2" fill="none"/><text transform="translate(229.8 212.7) rotate(-90)" font-size="8.4" fill="#8c1a90">&lt;0.000001</text>
<path d="M242.2 207.9H252.0M242.2 203.4v9.0M252.0 203.4v9.0" stroke="#2a2af0" stroke-width="1.2" fill="none"/><text transform="translate(250.1 199.4) rotate(-90)" font-size="8.4" fill="#2a2af0">&lt;0.000001</text>
<path d="M266.5 126.0H277.0M266.5 121.5v9.0M277.0 121.5v9.0" stroke="#111" stroke-width="1.2" fill="none"/><text transform="translate(274.8 117.0) rotate(-90)" font-size="8.4" fill="#8c1a90">0.000005</text>
<path d="M287.0 126.0H297.2M287.0 121.5v9.0M297.2 121.5v9.0" stroke="#2a2af0" stroke-width="1.2" fill="none"/><text transform="translate(295.1 116.2) rotate(-90)" font-size="8.4" fill="#2a2af0">0.000026</text>
<path d="M312.7 220.6H322.5M312.7 216.1v9.0M322.5 216.1v9.0" stroke="#111" stroke-width="1.2" fill="none"/><text transform="translate(320.6 214.2) rotate(-90)" font-size="8.4" fill="#8c1a90">&lt;0.000001</text>
<path d="M332.1 213.9H342.4M332.1 209.4v9.0M342.4 209.4v9.0" stroke="#2a2af0" stroke-width="1.2" fill="none"/><text transform="translate(340.2 202.3) rotate(-90)" font-size="8.4" fill="#2a2af0">0.000716</text>
<path d="M358.4 239.5H368.4M358.4 235.0v9.0M368.4 235.0v9.0" stroke="#111" stroke-width="1.2" fill="none"/><text transform="translate(366.4 231.0) rotate(-90)" font-size="8.4" fill="#8c1a90">0.000024</text>
<path d="M377.8 238.9H388.0M377.8 234.4v9.0M388.0 234.4v9.0" stroke="#2a2af0" stroke-width="1.2" fill="none"/><text transform="translate(385.9 231.1) rotate(-90)" font-size="8.4" fill="#2a2af0">&lt;0.000001</text>
<path d="M404.2 183.3H414.5M404.2 178.8v9.0M414.5 178.8v9.0" stroke="#111" stroke-width="1.2" fill="none"/><text transform="translate(412.4 173.8) rotate(-90)" font-size="8.4" fill="#8c1a90">0.000002</text>
<path d="M423.6 183.3H433.9M423.6 178.8v9.0M433.9 178.8v9.0" stroke="#2a2af0" stroke-width="1.2" fill="none"/><text transform="translate(431.8 176.7) rotate(-90)" font-size="8.4" fill="#2a2af0">&lt;0.000001</text>
<path d="M495.0 237.8H504.4M495.0 233.3v9.0M504.4 233.3v9.0" stroke="#111" stroke-width="1.2" fill="none"/><text transform="translate(502.7 228.8) rotate(-90)" font-size="8.4" fill="#8c1a90">0.000004</text>
<path d="M540.8 202.5H550.7M540.8 198.0v9.0M550.7 198.0v9.0" stroke="#111" stroke-width="1.2" fill="none"/><text transform="translate(548.8 193.5) rotate(-90)" font-size="8.4" fill="#8c1a90">0.000001</text>
<path d="M560.6 184.4H570.1M560.6 179.9v9.0M570.1 179.9v9.0" stroke="#2a2af0" stroke-width="1.2" fill="none"/><text transform="translate(568.4 176.9) rotate(-90)" font-size="8.4" fill="#2a2af0">&lt;0.000001</text>
<path d="M586.5 66.8H596.7M586.5 62.3v9.0M596.7 62.3v9.0" stroke="#111" stroke-width="1.2" fill="none"/><text transform="translate(594.6 60.4) rotate(-90)" font-size="8.4" fill="#8c1a90">&lt;0.000001</text>
<path d="M606.9 85.5H616.1M606.9 81.0v9.0M616.1 81.0v9.0" stroke="#2a2af0" stroke-width="1.2" fill="none"/><text transform="translate(614.5 75.7) rotate(-90)" font-size="8.4" fill="#2a2af0">0.000018</text>
<path d="M75.0 53.8V261M74.1 260H626.5" stroke="#17178f" stroke-width="1.7" fill="none"/><path d="M71.4 260.3H75.0" stroke="#17178f" stroke-width="1.5"/><text x="66.8" y="264.1" text-anchor="end" font-size="10.5" class="b" fill="#17178f">0</text><path d="M71.4 239.7H75.0" stroke="#17178f" stroke-width="1.5"/><text x="66.8" y="243.5" text-anchor="end" font-size="10.5" class="b" fill="#17178f">3</text><path d="M71.4 219.1H75.0" stroke="#17178f" stroke-width="1.5"/><text x="66.8" y="222.9" text-anchor="end" font-size="10.5" class="b" fill="#17178f">6</text><path d="M71.4 198.5H75.0" stroke="#17178f" stroke-width="1.5"/><text x="66.8" y="202.3" text-anchor="end" font-size="10.5" class="b" fill="#17178f">9</text><path d="M71.4 177.9H75.0" stroke="#17178f" stroke-width="1.5"/><text x="66.8" y="181.7" text-anchor="end" font-size="10.5" class="b" fill="#17178f">12</text><path d="M71.4 157.3H75.0" stroke="#17178f" stroke-width="1.5"/><text x="66.8" y="161.1" text-anchor="end" font-size="10.5" class="b" fill="#17178f">15</text><path d="M71.4 136.7H75.0" stroke="#17178f" stroke-width="1.5"/><text x="66.8" y="140.5" text-anchor="end" font-size="10.5" class="b" fill="#17178f">18</text><path d="M71.4 116.1H75.0" stroke="#17178f" stroke-width="1.5"/><text x="66.8" y="119.9" text-anchor="end" font-size="10.5" class="b" fill="#17178f">21</text><path d="M71.4 95.5H75.0" stroke="#17178f" stroke-width="1.5"/><text x="66.8" y="99.3" text-anchor="end" font-size="10.5" class="b" fill="#17178f">24</text><path d="M71.4 74.9H75.0" stroke="#17178f" stroke-width="1.5"/><text x="66.8" y="78.7" text-anchor="end" font-size="10.5" class="b" fill="#17178f">27</text><path d="M71.4 54.3H75.0" stroke="#17178f" stroke-width="1.5"/><text x="66.8" y="58.1" text-anchor="end" font-size="10.5" class="b" fill="#17178f">30</text>
<path d="M99.9 260V263.3" stroke="#17178f" stroke-width="1.5"/><text transform="translate(106.1 273.4) rotate(-45)" text-anchor="end" font-size="11.6" class="b" fill="#17178f">C14:0</text>
<path d="M145.5 260V263.3" stroke="#17178f" stroke-width="1.5"/><text transform="translate(151.7 273.4) rotate(-45)" text-anchor="end" font-size="11.6" class="b" fill="#17178f">C15:0</text>
<path d="M191.1 260V263.3" stroke="#17178f" stroke-width="1.5"/><text transform="translate(197.3 273.4) rotate(-45)" text-anchor="end" font-size="11.6" class="b" fill="#17178f">C16:0</text>
<path d="M236.7 260V263.3" stroke="#17178f" stroke-width="1.5"/><text transform="translate(242.9 273.4) rotate(-45)" text-anchor="end" font-size="11.6" class="b" fill="#17178f">C16:1</text>
<path d="M282.3 260V263.3" stroke="#17178f" stroke-width="1.5"/><text transform="translate(288.5 273.4) rotate(-45)" text-anchor="end" font-size="11.6" class="b" fill="#17178f">C17:D</text>
<path d="M327.9 260V263.3" stroke="#17178f" stroke-width="1.5"/><text transform="translate(334.1 273.4) rotate(-45)" text-anchor="end" font-size="11.6" class="b" fill="#17178f">C18:1n9</text>
<path d="M373.5 260V263.3" stroke="#17178f" stroke-width="1.5"/><text transform="translate(379.7 273.4) rotate(-45)" text-anchor="end" font-size="11.6" class="b" fill="#17178f">C18:3</text>
<path d="M419.1 260V263.3" stroke="#17178f" stroke-width="1.5"/><text transform="translate(425.3 273.4) rotate(-45)" text-anchor="end" font-size="11.6" class="b" fill="#17178f">C18:2</text>
<path d="M464.7 260V263.3" stroke="#17178f" stroke-width="1.5"/><text transform="translate(470.9 273.4) rotate(-45)" text-anchor="end" font-size="11.6" class="b" fill="#17178f">C20:3</text>
<path d="M510.3 260V263.3" stroke="#17178f" stroke-width="1.5"/><text transform="translate(516.5 273.4) rotate(-45)" text-anchor="end" font-size="11.6" class="b" fill="#17178f">C20:4</text>
<path d="M555.9 260V263.3" stroke="#17178f" stroke-width="1.5"/><text transform="translate(562.1 273.4) rotate(-45)" text-anchor="end" font-size="11.6" class="b" fill="#17178f">C20:4n3</text>
<path d="M601.5 260V263.3" stroke="#17178f" stroke-width="1.5"/><text transform="translate(607.7 273.4) rotate(-45)" text-anchor="end" font-size="11.6" class="b" fill="#17178f">C20:5</text>
<text transform="translate(45.0 157.8) rotate(-90)" text-anchor="middle" font-size="11.2" class="b" fill="#17178f">% fatty acids/total fatty acids</text>
<path d="M91.1 58.6h3.8l-1.9 3.2z" fill="#128a8c"/><text x="99.3" y="63.2" font-size="9.85" class="b" fill="#17178f">WT; Control RNAi</text>
<path d="M93.0 73.8l1.9 1.9l-1.9 1.9l-1.9 -1.9z" fill="#8a0a86"/><text x="99.3" y="78.7" font-size="9.85" class="b" fill="#17178f">WT; <tspan class="i">drl-1</tspan> RNAi</text>
<rect x="91.3" y="88.4" width="3.4" height="3.4" fill="#0c0c86"/><text x="99.3" y="93.0" font-size="9.85" class="b" fill="#17178f"><tspan class="i">sek-1(km4);</tspan> Control RNAi</text>
<path d="M91.1 106.4h3.8l-1.9 -3.2z" fill="#9c9cf2"/><text x="99.3" y="107.4" font-size="9.85" class="b" fill="#17178f"><tspan class="i">sek-1(km4); drl-1</tspan> RNAi</text>
<rect x="395.4" y="119.4" width="46.8" height="143.7" fill="none" stroke="#f01818" stroke-width="1.4"/><rect x="577.7" y="12.5" width="48.4" height="250.6" fill="none" stroke="#f01818" stroke-width="1.4"/><text x="417.8" y="112.5" text-anchor="middle" font-size="10.5" class="b" fill="#111">LA</text><text x="602.1" y="8.3" text-anchor="middle" font-size="11" class="b" fill="#111">EPA</text><text x="0" y="55.6" font-size="16" class="b" fill="#111">a</text>
</g>
<g id="panel-b">
<text x="0" y="328.6" font-size="15.5" class="b" fill="#111">b</text><rect x="14.2" y="335.2" width="121.5" height="139.4" fill="#030303"/><rect x="75.9" y="335" width="1.4" height="139.8" fill="#f4f4f4"/><rect x="14" y="404.7" width="122" height="2.0" fill="#f4f4f4"/><text x="47.7" y="330.8" text-anchor="middle" font-size="9.3" class="b" fill="#111">EPA</text><text x="107" y="330.8" text-anchor="middle" font-size="9.3" class="b" fill="#111">Ethanol</text><text transform="translate(7.3 407.5) rotate(-90)" text-anchor="middle" font-size="9.95" class="b i" fill="#111">Pcyp-35B1::gfp</text><text x="140.2" y="368.4" font-size="9.7" class="b" fill="#111">Control</text><text x="140.2" y="379.5" font-size="9.7" class="b" fill="#111">RNAi</text><text x="140.2" y="437.6" font-size="9.7" class="b i" fill="#111">sek-1</text><text x="140.2" y="448.9" font-size="9.7" class="b" fill="#111">RNAi</text>
<defs><linearGradient id="wg1" gradientUnits="userSpaceOnUse" x1="18" x2="76" y1="0" y2="0"><stop offset="0" stop-color="#fff"/><stop offset="0.22" stop-color="#aaa"/><stop offset="0.5" stop-color="#555"/><stop offset="1" stop-color="#2c2c2c"/></linearGradient><linearGradient id="wg2" gradientUnits="userSpaceOnUse" x1="18" x2="76" y1="0" y2="0"><stop offset="0" stop-color="#aaa"/><stop offset="0.3" stop-color="#5a5a5a"/><stop offset="1" stop-color="#262626"/></linearGradient><clipPath id="cpb"><rect x="14.2" y="335.2" width="121.5" height="139.4"/></clipPath></defs><defs><filter id="wn" x="0" y="0" width="100%" height="100%"><feGaussianBlur stdDeviation="0.45" result="b"/><feTurbulence type="fractalNoise" baseFrequency="0.09 0.45" numOctaves="2" seed="4" result="n"/><feColorMatrix in="n" type="matrix" values="0 0 0 0 1  0 0 0 0 1  0 0 0 0 1  2.8 0 0 0 -0.45" result="m"/><feComposite in="b" in2="m" operator="in"/></filter></defs><g clip-path="url(#cpb)"><g filter="url(#wn)"><ellipse cx="33.9" cy="358.5" rx="9" ry="6" fill="#fff" opacity="0.16" filter="url(#bl2)" transform="rotate(-35 33.9 358.5)"/><ellipse cx="30.2" cy="391.6" rx="11" ry="7" fill="#fff" opacity="0.2" filter="url(#bl2)"/><ellipse cx="52.2" cy="389.4" rx="20" ry="9" fill="#fff" opacity="0.07" filter="url(#bl2)"/><ellipse cx="50.8" cy="351.2" rx="20" ry="10" fill="#fff" opacity="0.07" filter="url(#bl2)" transform="rotate(-15 50.8 351.2)"/><path d="M39.0 340.9Q55.2 337.2 72.1 337.9" stroke="url(#wg1)" stroke-width="1.0" stroke-opacity="0.4" fill="none" stroke-linecap="round"/><path d="M34.6 343.8Q50.8 339.4 72.1 340.6" stroke="url(#wg1)" stroke-width="1.0" stroke-opacity="0.55" fill="none" stroke-linecap="round"/><path d="M30.9 347.5Q46.4 343.1 71.4 343.8" stroke="url(#wg1)" stroke-width="1.0" stroke-opacity="0.7" fill="none" stroke-linecap="round"/><path d="M28.7 351.2Q44.9 346.8 70.6 347.5" stroke="url(#wg1)" stroke-width="1.0" stroke-opacity="0.8" fill="none" stroke-linecap="round"/><path d="M27.2 354.9Q43.4 350.4 69.1 351.2" stroke="url(#wg1)" stroke-width="1.0" stroke-opacity="0.85" fill="none" stroke-linecap="round"/><path d="M25.0 358.5Q41.9 354.9 66.9 354.9" stroke="url(#wg1)" stroke-width="1.0" stroke-opacity="0.9" fill="none" stroke-linecap="round"/><path d="M22.8 361.5Q37.5 359.3 64.7 358.5" stroke="url(#wg1)" stroke-width="1.0" stroke-opacity="0.95" fill="none" stroke-linecap="round"/><path d="M20.6 364.4Q36.1 363.7 61.8 361.8" stroke="url(#wg1)" stroke-width="1.0" stroke-opacity="1" fill="none" stroke-linecap="round"/><path d="M21.4 367.1Q36.1 369.1 58.1 364.9" stroke="url(#wg1)" stroke-width="1.0" stroke-opacity="0.9" fill="none" stroke-linecap="round"/><path d="M24.3 379.1Q43.4 377.6 65.5 379.1" stroke="url(#wg2)" stroke-width="1.1" stroke-opacity="0.4" fill="none" stroke-linecap="round"/><path d="M19.9 385.7Q43.4 383.5 69.9 384.3" stroke="url(#wg2)" stroke-width="1.1" stroke-opacity="0.6" fill="none" stroke-linecap="round"/><path d="M20.6 388.7Q43.4 387.2 70.6 388.7" stroke="url(#wg1)" stroke-width="1.1" stroke-opacity="1" fill="none" stroke-linecap="round"/><path d="M21.4 391.6Q43.4 390.9 69.9 392.4" stroke="url(#wg1)" stroke-width="1.1" stroke-opacity="1" fill="none" stroke-linecap="round"/><path d="M22.8 395.3Q43.4 393.8 69.1 395.3" stroke="url(#wg2)" stroke-width="1.1" stroke-opacity="0.7" fill="none" stroke-linecap="round"/><path d="M23.6 399.0Q43.4 398.2 65.5 399.0" stroke="url(#wg1)" stroke-width="1.1" stroke-opacity="1" fill="none" stroke-linecap="round"/><path d="M22.8 382.4Q43.4 380.9 66.9 381.8" stroke="url(#wg2)" stroke-width="1.1" stroke-opacity="0.4" fill="none" stroke-linecap="round"/><ellipse cx="24.3" cy="378.5" rx="1.2" ry="2.2" fill="#fff"/><ellipse cx="105.7" cy="351.9" rx="22.3" ry="10.6" fill="#161616" filter="url(#bl2)"/><path d="M89.3 342.9Q106.3 335.9 123.2 342.6" stroke="#bbb" stroke-width="0.75" stroke-opacity="0.30544684602714184" fill="none" stroke-linecap="round"/><path d="M85.4 344.9Q105.8 339.5 126.2 344.8" stroke="#bbb" stroke-width="0.75" stroke-opacity="0.36431403053522204" fill="none" stroke-linecap="round"/><path d="M83.7 346.9Q106.2 343.0 128.7 346.4" stroke="#bbb" stroke-width="0.75" stroke-opacity="0.3085243558433331" fill="none" stroke-linecap="round"/><path d="M81.8 348.9Q105.5 346.6 129.1 349.2" stroke="#bbb" stroke-width="0.75" stroke-opacity="0.34951990955835854" fill="none" stroke-linecap="round"/><path d="M82.0 350.9Q106.1 350.1 130.3 350.9" stroke="#bbb" stroke-width="0.75" stroke-opacity="0.35130464675965833" fill="none" stroke-linecap="round"/><path d="M82.3 352.9Q105.9 353.7 129.5 353.5" stroke="#bbb" stroke-width="0.75" stroke-opacity="0.3577022032162437" fill="none" stroke-linecap="round"/><path d="M81.6 354.9Q105.7 357.2 129.7 354.5" stroke="#bbb" stroke-width="0.75" stroke-opacity="0.5379817210577373" fill="none" stroke-linecap="round"/><path d="M83.4 356.9Q105.4 360.8 127.4 356.4" stroke="#bbb" stroke-width="0.75" stroke-opacity="0.40425727052687854" fill="none" stroke-linecap="round"/><path d="M85.7 358.9Q106.2 364.4 126.7 358.3" stroke="#bbb" stroke-width="0.75" stroke-opacity="0.39836499403111336" fill="none" stroke-linecap="round"/><path d="M88.0 360.9Q105.8 367.9 123.7 360.3" stroke="#bbb" stroke-width="0.75" stroke-opacity="0.31296013539630657" fill="none" stroke-linecap="round"/><ellipse cx="105.7" cy="384.3" rx="23.7" ry="11.9" fill="#161616" filter="url(#bl2)"/><path d="M86.7 374.2Q105.2 366.4 123.7 374.9" stroke="#b0b0b0" stroke-width="0.75" stroke-opacity="0.4688063184223696" fill="none" stroke-linecap="round"/><path d="M84.9 376.2Q106.3 370.0 127.8 377.0" stroke="#b0b0b0" stroke-width="0.75" stroke-opacity="0.3440796209715589" fill="none" stroke-linecap="round"/><path d="M81.8 378.2Q105.8 373.5 129.7 378.7" stroke="#b0b0b0" stroke-width="0.75" stroke-opacity="0.2771760797512614" fill="none" stroke-linecap="round"/><path d="M81.3 380.2Q105.7 377.1 130.1 380.0" stroke="#b0b0b0" stroke-width="0.75" stroke-opacity="0.3446319351684146" fill="none" stroke-linecap="round"/><path d="M79.6 382.3Q104.9 380.7 130.3 381.9" stroke="#b0b0b0" stroke-width="0.75" stroke-opacity="0.34908004350618427" fill="none" stroke-linecap="round"/><path d="M80.7 384.3Q105.7 384.3 130.7 385.1" stroke="#b0b0b0" stroke-width="0.75" stroke-opacity="0.3166655474940626" fill="none" stroke-linecap="round"/><path d="M79.9 386.3Q105.8 387.8 131.7 386.8" stroke="#b0b0b0" stroke-width="0.75" stroke-opacity="0.3673011001553093" fill="none" stroke-linecap="round"/><path d="M80.2 388.3Q105.3 391.4 130.3 388.1" stroke="#b0b0b0" stroke-width="0.75" stroke-opacity="0.47688894428631806" fill="none" stroke-linecap="round"/><path d="M81.8 390.3Q105.3 395.0 128.7 391.0" stroke="#b0b0b0" stroke-width="0.75" stroke-opacity="0.27681346239241944" fill="none" stroke-linecap="round"/><path d="M84.3 392.3Q105.9 398.6 127.4 392.8" stroke="#b0b0b0" stroke-width="0.75" stroke-opacity="0.27914613388108256" fill="none" stroke-linecap="round"/><path d="M86.7 394.3Q104.9 402.1 123.1 395.1" stroke="#b0b0b0" stroke-width="0.75" stroke-opacity="0.3278285892968016" fill="none" stroke-linecap="round"/><ellipse cx="89.9" cy="344.6" rx="2.6" ry="0.9" fill="#fff"/><ellipse cx="45.0" cy="424.2" rx="21.8" ry="10.9" fill="#121212" filter="url(#bl2)"/><path d="M28.8 415.1Q45.7 407.9 62.7 414.7" stroke="#999" stroke-width="0.75" stroke-opacity="0.29446293254937367" fill="none" stroke-linecap="round"/><path d="M25.5 417.7Q45.7 412.6 65.8 417.2" stroke="#999" stroke-width="0.75" stroke-opacity="0.38332714928623646" fill="none" stroke-linecap="round"/><path d="M22.0 420.3Q44.6 417.2 67.1 419.2" stroke="#999" stroke-width="0.75" stroke-opacity="0.39113047450120475" fill="none" stroke-linecap="round"/><path d="M22.3 422.9Q45.6 421.9 68.9 423.9" stroke="#999" stroke-width="0.75" stroke-opacity="0.24485134098830572" fill="none" stroke-linecap="round"/><path d="M20.8 425.6Q44.7 426.6 68.6 426.6" stroke="#999" stroke-width="0.75" stroke-opacity="0.4307821160202574" fill="none" stroke-linecap="round"/><path d="M22.2 428.2Q44.6 431.3 67.1 428.0" stroke="#999" stroke-width="0.75" stroke-opacity="0.33869476874576104" fill="none" stroke-linecap="round"/><path d="M25.5 430.8Q45.1 435.9 64.8 431.5" stroke="#999" stroke-width="0.75" stroke-opacity="0.3876976026644033" fill="none" stroke-linecap="round"/><path d="M29.0 433.4Q45.7 440.6 62.4 433.7" stroke="#999" stroke-width="0.75" stroke-opacity="0.3055599621850884" fill="none" stroke-linecap="round"/><ellipse cx="45.0" cy="456.2" rx="21.8" ry="11.6" fill="#121212" filter="url(#bl2)"/><path d="M27.9 446.3Q44.7 438.7 61.5 446.9" stroke="#999" stroke-width="0.75" stroke-opacity="0.2558029742716026" fill="none" stroke-linecap="round"/><path d="M23.9 449.1Q45.0 443.7 66.1 448.6" stroke="#999" stroke-width="0.75" stroke-opacity="0.2529466051601559" fill="none" stroke-linecap="round"/><path d="M21.4 452.0Q44.6 448.7 67.7 451.6" stroke="#999" stroke-width="0.75" stroke-opacity="0.4360511541762267" fill="none" stroke-linecap="round"/><path d="M22.3 454.8Q46.0 453.7 69.7 454.3" stroke="#999" stroke-width="0.75" stroke-opacity="0.25681651951125417" fill="none" stroke-linecap="round"/><path d="M20.5 457.6Q44.6 458.7 68.6 458.0" stroke="#999" stroke-width="0.75" stroke-opacity="0.32939262058316454" fill="none" stroke-linecap="round"/><path d="M21.8 460.4Q44.6 463.7 67.4 460.7" stroke="#999" stroke-width="0.75" stroke-opacity="0.3748217237516244" fill="none" stroke-linecap="round"/><path d="M25.1 463.2Q45.7 468.7 66.3 463.6" stroke="#999" stroke-width="0.75" stroke-opacity="0.2642329474981883" fill="none" stroke-linecap="round"/><path d="M29.0 466.0Q45.2 473.7 61.3 466.2" stroke="#999" stroke-width="0.75" stroke-opacity="0.3145942074865945" fill="none" stroke-linecap="round"/><ellipse cx="105.2" cy="421.5" rx="22.7" ry="8.5" fill="#131313" filter="url(#bl2)"/><path d="M88.3 414.3Q105.2 408.7 122.0 413.7" stroke="#999" stroke-width="0.75" stroke-opacity="0.2890680593781233" fill="none" stroke-linecap="round"/><path d="M82.8 416.7Q105.3 412.9 127.8 416.9" stroke="#999" stroke-width="0.75" stroke-opacity="0.3052675838244023" fill="none" stroke-linecap="round"/><path d="M81.1 419.1Q105.7 417.2 130.3 419.1" stroke="#999" stroke-width="0.75" stroke-opacity="0.2862761888647685" fill="none" stroke-linecap="round"/><path d="M81.3 421.5Q105.7 421.5 130.2 422.6" stroke="#999" stroke-width="0.75" stroke-opacity="0.2604664841361226" fill="none" stroke-linecap="round"/><path d="M81.2 423.9Q105.6 425.8 129.9 424.7" stroke="#999" stroke-width="0.75" stroke-opacity="0.4228751107661073" fill="none" stroke-linecap="round"/><path d="M82.5 426.3Q104.5 430.1 126.5 425.5" stroke="#999" stroke-width="0.75" stroke-opacity="0.2779146361358364" fill="none" stroke-linecap="round"/><path d="M88.9 428.7Q105.8 434.4 122.8 429.7" stroke="#999" stroke-width="0.75" stroke-opacity="0.3144473926911786" fill="none" stroke-linecap="round"/><ellipse cx="104.3" cy="449.8" rx="21.8" ry="7.8" fill="#131313" filter="url(#bl2)"/><path d="M88.4 443.2Q104.7 438.1 121.0 442.7" stroke="#999" stroke-width="0.75" stroke-opacity="0.37577749245094927" fill="none" stroke-linecap="round"/><path d="M84.4 445.4Q104.4 442.0 124.4 445.6" stroke="#999" stroke-width="0.75" stroke-opacity="0.34579011619421046" fill="none" stroke-linecap="round"/><path d="M80.7 447.6Q103.9 445.9 127.1 446.8" stroke="#999" stroke-width="0.75" stroke-opacity="0.2667555231152178" fill="none" stroke-linecap="round"/><path d="M80.1 449.8Q104.2 449.8 128.3 450.1" stroke="#999" stroke-width="0.75" stroke-opacity="0.2666539400726654" fill="none" stroke-linecap="round"/><path d="M80.2 452.0Q103.6 453.7 127.0 452.4" stroke="#999" stroke-width="0.75" stroke-opacity="0.2631775689273523" fill="none" stroke-linecap="round"/><path d="M83.0 454.2Q103.8 457.6 124.6 454.8" stroke="#999" stroke-width="0.75" stroke-opacity="0.33212851849098757" fill="none" stroke-linecap="round"/><path d="M86.6 456.4Q103.4 461.5 120.2 456.1" stroke="#999" stroke-width="0.75" stroke-opacity="0.33252614597503033" fill="none" stroke-linecap="round"/></g></g>
</g>
<g id="panel-c">
<text x="187" y="328.2" font-size="15.5" class="b" fill="#111">c</text><rect x="200.8" y="348.8" width="143.1" height="106" fill="#070707"/><rect x="271.4" y="348.5" width="1.7" height="106.5" fill="#f4f4f4"/><rect x="200.5" y="399.8" width="143.6" height="1.8" fill="#f4f4f4"/><text x="237.8" y="344" text-anchor="middle" font-size="9.3" class="b" fill="#111">LA</text><text x="308.8" y="344" text-anchor="middle" font-size="9.3" class="b" fill="#111">Ethanol</text><text transform="translate(194.7 402.1) rotate(-90)" text-anchor="middle" font-size="9.65" class="b i" fill="#111">Pcyp-35B1::gfp</text><text x="348.7" y="369.5" font-size="9.7" class="b" fill="#111">Control</text><text x="348.7" y="380.8" font-size="9.7" class="b" fill="#111">RNAi</text><text x="348.7" y="420.4" font-size="9.7" class="b i" fill="#111">sek-1</text><text x="348.7" y="431.7" font-size="9.7" class="b" fill="#111">RNAi</text>
<defs><clipPath id="cpc"><rect x="200.8" y="348.8" width="143.1" height="106"/></clipPath><filter id="bl4" x="-20%" y="-20%" width="140%" height="140%"><feGaussianBlur stdDeviation="0.7"/></filter><filter id="wn2" x="-5%" y="-5%" width="110%" height="110%"><feGaussianBlur stdDeviation="0.55" result="b"/><feTurbulence type="fractalNoise" baseFrequency="0.14" numOctaves="2" seed="9" result="n"/><feColorMatrix in="n" type="matrix" values="0 0 0 0 1  0 0 0 0 1  0 0 0 0 1  2.8 0 0 0 -0.45" result="m"/><feComposite in="b" in2="m" operator="in"/></filter></defs><g clip-path="url(#cpc)"><path d="M203.3 364.7C206.7 354.7 216.7 354.7 227.8 363.6C238.9 366.9 250.1 354.7 270.1 352.4L270.1 375.8C266.7 390.3 250.1 395.8 227.8 394.7C213.3 393.6 204.4 381.4 203.3 364.7Z" fill="#1c1c1c" filter="url(#bl2)"/><g filter="url(#wn2)"><path d="M206.7 361.3Q233.4 373.6 269.0 354.7" stroke="#aaa" stroke-width="0.9" stroke-opacity="0.6" fill="none" stroke-linecap="round"/><path d="M205.6 368.0Q236.7 381.4 269.5 360.2" stroke="#aaa" stroke-width="0.9" stroke-opacity="0.6" fill="none" stroke-linecap="round"/><path d="M206.7 375.8Q238.9 388.0 269.5 365.8" stroke="#aaa" stroke-width="0.9" stroke-opacity="0.6" fill="none" stroke-linecap="round"/><path d="M208.9 382.5Q238.9 393.6 269.0 371.4" stroke="#aaa" stroke-width="0.9" stroke-opacity="0.6" fill="none" stroke-linecap="round"/><path d="M212.2 389.2Q240.0 396.9 266.7 378.0" stroke="#aaa" stroke-width="0.9" stroke-opacity="0.6" fill="none" stroke-linecap="round"/><path d="M216.7 392.5Q242.3 398.1 262.3 385.8" stroke="#aaa" stroke-width="0.9" stroke-opacity="0.6" fill="none" stroke-linecap="round"/><path d="M228.9 364.7Q244.5 364.7 266.7 353.6" stroke="#aaa" stroke-width="0.9" stroke-opacity="0.6" fill="none" stroke-linecap="round"/></g><g filter="url(#bl4)"><path d="M213.3 357.5Q218.9 361.9 228.9 364.7" stroke="#fff" stroke-width="0.9" stroke-opacity="0.9" fill="none" stroke-linecap="round"/><path d="M215.0 359.1Q218.9 361.9 223.9 363.4" stroke="#fff" stroke-width="1.6" stroke-opacity="1" fill="none" stroke-linecap="round"/><path d="M209.5 371.4Q218.9 377.5 236.7 380.3" stroke="#fff" stroke-width="1.0" stroke-opacity="0.9" fill="none" stroke-linecap="round"/><path d="M211.7 373.4Q218.9 377.1 230.0 379.4" stroke="#fff" stroke-width="2.1" stroke-opacity="1" fill="none" stroke-linecap="round"/><path d="M216.7 371.9Q224.5 371.1 232.8 372.2" stroke="#ddd" stroke-width="1.0" stroke-opacity="0.8" fill="none" stroke-linecap="round"/><path d="M217.2 379.7Q221.1 381.0 226.1 381.4" stroke="#fff" stroke-width="1.3" stroke-opacity="0.85" fill="none" stroke-linecap="round"/><path d="M211.1 384.7Q216.7 386.6 222.8 387.2" stroke="#ccc" stroke-width="1.0" stroke-opacity="0.75" fill="none" stroke-linecap="round"/><path d="M213.3 389.7Q217.8 391.6 223.9 392.2" stroke="#eee" stroke-width="1.2" stroke-opacity="0.85" fill="none" stroke-linecap="round"/><ellipse cx="222.8" cy="352.7" rx="0.8" ry="1.2" fill="#ddd"/></g><path d="M275.2 384.7C289.7 372.5 304.1 365.8 311.9 352.4C319.7 361.3 330.8 354.7 338.6 362.5C339.7 376.9 323.1 394.7 293.0 398.1C284.1 396.9 277.4 392.5 275.2 384.7Z" fill="#101010" filter="url(#bl2)"/><g filter="url(#wn2)"><path d="M275.8 384.2Q295.2 373.6 311.9 352.4" stroke="#aaa" stroke-width="0.85" stroke-opacity="0.55" fill="none" stroke-linecap="round"/><path d="M278.0 385.8Q298.6 376.9 314.2 356.9" stroke="#aaa" stroke-width="0.85" stroke-opacity="0.55" fill="none" stroke-linecap="round"/><path d="M283.0 392.5Q300.8 381.4 317.5 370.2" stroke="#aaa" stroke-width="0.85" stroke-opacity="0.55" fill="none" stroke-linecap="round"/><path d="M285.2 394.7Q306.4 384.7 326.4 371.4" stroke="#aaa" stroke-width="0.85" stroke-opacity="0.55" fill="none" stroke-linecap="round"/><path d="M287.5 395.8Q311.9 388.0 335.3 365.8" stroke="#aaa" stroke-width="0.85" stroke-opacity="0.55" fill="none" stroke-linecap="round"/><path d="M290.8 397.5Q317.5 392.5 338.1 366.9" stroke="#aaa" stroke-width="0.85" stroke-opacity="0.55" fill="none" stroke-linecap="round"/><path d="M295.2 398.1Q319.7 394.7 335.3 379.1" stroke="#aaa" stroke-width="0.85" stroke-opacity="0.55" fill="none" stroke-linecap="round"/><path d="M284.1 390.3Q297.5 381.4 309.7 368.0" stroke="#aaa" stroke-width="0.85" stroke-opacity="0.55" fill="none" stroke-linecap="round"/><ellipse cx="278.0" cy="384.2" rx="1.3" ry="0.6" transform="rotate(-35 277.4 384.7)" fill="#aaa"/><ellipse cx="284.7" cy="393.1" rx="1.3" ry="0.6" transform="rotate(-35 284.1 393.6)" fill="#aaa"/><ellipse cx="287.5" cy="394.8" rx="1.3" ry="0.6" transform="rotate(-35 286.9 395.3)" fill="#aaa"/><ellipse cx="290.3" cy="396.4" rx="1.3" ry="0.6" transform="rotate(-35 289.7 396.9)" fill="#aaa"/></g><g transform="translate(239.2 429.6) rotate(24)"><ellipse rx="27.6" ry="11.2" fill="#171717" filter="url(#bl2)"/><g filter="url(#wn2)"><path d="M-19.9 -7.8Q0 -15.1 19.9 -7.8" stroke="#bbb" stroke-width="0.85" stroke-opacity="0.48" fill="none"/><path d="M-25.8 -5.6Q0 -10.8 25.8 -5.6" stroke="#bbb" stroke-width="0.85" stroke-opacity="0.37" fill="none"/><path d="M-29.0 -3.3Q0 -6.5 29.0 -3.3" stroke="#bbb" stroke-width="0.85" stroke-opacity="0.38" fill="none"/><path d="M-30.5 -1.1Q0 -2.2 30.5 -1.1" stroke="#bbb" stroke-width="0.85" stroke-opacity="0.49" fill="none"/><path d="M-30.5 1.1Q0 2.2 30.5 1.1" stroke="#bbb" stroke-width="0.85" stroke-opacity="0.43" fill="none"/><path d="M-29.0 3.3Q0 6.5 29.0 3.3" stroke="#bbb" stroke-width="0.85" stroke-opacity="0.41" fill="none"/><path d="M-25.8 5.6Q0 10.8 25.8 5.6" stroke="#bbb" stroke-width="0.85" stroke-opacity="0.41" fill="none"/><path d="M-19.9 7.8Q0 15.1 19.9 7.8" stroke="#bbb" stroke-width="0.85" stroke-opacity="0.54" fill="none"/></g></g><g transform="translate(316.4 430.6) rotate(-31)"><ellipse rx="28.6" ry="10.4" fill="#151515" filter="url(#bl2)"/><g filter="url(#wn2)"><path d="M-20.6 -7.3Q0 -14.1 20.6 -7.3" stroke="#bbb" stroke-width="0.85" stroke-opacity="0.37" fill="none"/><path d="M-26.7 -5.2Q0 -10.1 26.7 -5.2" stroke="#bbb" stroke-width="0.85" stroke-opacity="0.42" fill="none"/><path d="M-30.0 -3.1Q0 -6.0 30.0 -3.1" stroke="#bbb" stroke-width="0.85" stroke-opacity="0.38" fill="none"/><path d="M-31.6 -1.0Q0 -2.0 31.6 -1.0" stroke="#bbb" stroke-width="0.85" stroke-opacity="0.39" fill="none"/><path d="M-31.6 1.0Q0 2.0 31.6 1.0" stroke="#bbb" stroke-width="0.85" stroke-opacity="0.47" fill="none"/><path d="M-30.0 3.1Q0 6.0 30.0 3.1" stroke="#bbb" stroke-width="0.85" stroke-opacity="0.49" fill="none"/><path d="M-26.7 5.2Q0 10.1 26.7 5.2" stroke="#bbb" stroke-width="0.85" stroke-opacity="0.38" fill="none"/><path d="M-20.6 7.3Q0 14.1 20.6 7.3" stroke="#bbb" stroke-width="0.85" stroke-opacity="0.35" fill="none"/></g></g></g>
</g>
<g id="panel-d">
<text x="397.5" y="328.2" font-size="15.5" class="b" fill="#111">d</text><text x="481" y="338.3" text-anchor="middle" font-size="9.6" class="b" fill="#111">Control RNAi</text><text x="591" y="338.3" text-anchor="middle" font-size="9.6" class="b" fill="#111"><tspan class="i">sek-1</tspan> RNAi</text><path d="M440.4 343.4H523.6M549.2 343.4H632.9" stroke="#7d9fe0" stroke-width="0.9"/><text x="450.3" y="352.8" text-anchor="middle" font-size="8" class="b" fill="#111">Ethanol</text><text x="489.1" y="352.8" text-anchor="middle" font-size="8" class="b" fill="#111">EPA</text><text x="523.3" y="352.8" text-anchor="middle" font-size="8" class="b" fill="#111">LA</text><text x="561" y="352.8" text-anchor="middle" font-size="8" class="b" fill="#111">Ethanol</text><text x="595.6" y="352.8" text-anchor="middle" font-size="8" class="b" fill="#111">EPA</text><text x="631.7" y="352.8" text-anchor="middle" font-size="8" class="b" fill="#111">LA</text>
<defs><linearGradient id="bg1" x1="0" x2="1" y1="0" y2="0"><stop offset="0" stop-color="#d6d6d6"/><stop offset="0.45" stop-color="#d2d2d2"/><stop offset="0.6" stop-color="#c6c6c6"/><stop offset="1" stop-color="#c4c4c4"/></linearGradient><linearGradient id="bg2" x1="0" x2="1" y1="0" y2="0"><stop offset="0" stop-color="#cecece"/><stop offset="1" stop-color="#c5c5c5"/></linearGradient><linearGradient id="bg3" x1="0" x2="0" y1="0" y2="1"><stop offset="0" stop-color="#cdcdcd"/><stop offset="1" stop-color="#c4c4c4"/></linearGradient></defs><rect x="433.2" y="356.4" width="216.6" height="24.9" fill="url(#bg1)" stroke="#222" stroke-width="1.1"/><path d="M433.4 355.9V381.8" stroke="#222" stroke-width="1.6"/><rect x="433.2" y="385.8" width="216.6" height="26.4" fill="url(#bg2)" stroke="#222" stroke-width="1.1"/><path d="M433.4 385.3V412.7" stroke="#222" stroke-width="1.6"/><rect x="433.2" y="416.5" width="216.6" height="27.9" fill="url(#bg3)" stroke="#222" stroke-width="1.1"/><path d="M433.4 416.0V444.9" stroke="#222" stroke-width="1.6"/><text x="423" y="358.9" text-anchor="end" font-size="8.1" class="b" fill="#111">55 kDa</text><text x="423" y="382.1" text-anchor="end" font-size="8.1" class="b" fill="#111">40 kDa</text><text x="423" y="389.5" text-anchor="end" font-size="8.1" class="b" fill="#111">55 kDa</text><text x="423" y="412.3" text-anchor="end" font-size="8.1" class="b" fill="#111">40 kDa</text><text x="423" y="419.6" text-anchor="end" font-size="8.1" class="b" fill="#111">55 kDa</text><text x="423" y="447.4" text-anchor="end" font-size="8.1" class="b" fill="#111">40 kDa</text><path d="M426 356.2H433" stroke="#222" stroke-width="0.9"/><path d="M426 381.5H433" stroke="#222" stroke-width="0.9"/><path d="M426 385.5H433" stroke="#222" stroke-width="0.9"/><path d="M426 412.5H433" stroke="#222" stroke-width="0.9"/><path d="M426 416.2H433" stroke="#222" stroke-width="0.9"/><path d="M426 444.6H433" stroke="#222" stroke-width="0.9"/>
<defs><linearGradient id="fade1" x1="0" x2="1" y1="0" y2="0"><stop offset="0" stop-color="#444"/><stop offset="0.45" stop-color="#999"/><stop offset="1" stop-color="#c8c8c8"/></linearGradient><linearGradient id="fade2" x1="0" x2="1" y1="0" y2="0"><stop offset="0" stop-color="#999"/><stop offset="1" stop-color="#2a2a2a"/></linearGradient><clipPath id="cb1"><rect x="433.8" y="357" width="215.4" height="24.2"/></clipPath><clipPath id="cb2"><rect x="433.8" y="386.4" width="215.4" height="25.6"/></clipPath><clipPath id="cb3"><rect x="433.8" y="417.1" width="215.4" height="27.2"/></clipPath></defs><g clip-path="url(#cb1)"><rect x="438.0" y="370.6" width="26.0" height="3.2" rx="1.6" fill="url(#fade1)" opacity="1" filter="url(#bl1)"/><rect x="475.4" y="367.4" width="26.2" height="5.6" rx="2.8" fill="#1c1c1c" opacity="1" filter="url(#bl3)"/><rect x="510.7" y="366.3" width="25.2" height="6.0" rx="3.0" fill="#1a1a1a" opacity="1" filter="url(#bl3)"/></g><g clip-path="url(#cb2)"><rect x="436.0" y="398.1" width="30.3" height="8.6" rx="4.3" fill="#111" opacity="1" filter="url(#bl3)"/><rect x="474.0" y="398.7" width="28.6" height="6.6" rx="3.3" fill="#181818" opacity="1" filter="url(#bl3)"/><rect x="512.7" y="400.6" width="27.8" height="8.6" rx="4.3" fill="#111" opacity="1" filter="url(#bl3)"/><rect x="517.0" y="392.6" width="23.0" height="5.6" rx="2.8" fill="url(#fade2)" opacity="1" filter="url(#bl3)"/><rect x="547.0" y="399.8" width="29.3" height="9.4" rx="4.7" fill="#0c0c0c" opacity="1" filter="url(#bl3)"/><rect x="549.0" y="390.5" width="24.5" height="8.2" rx="4.1" fill="#101010" opacity="1" filter="url(#bl3)"/><rect x="582.8" y="400.2" width="26.8" height="7.6" rx="3.8" fill="#111" opacity="1" filter="url(#bl3)"/><rect x="618.3" y="400.2" width="28.2" height="6.4" rx="3.2" fill="#151515" opacity="1" filter="url(#bl3)"/></g><g clip-path="url(#cb3)"><rect x="436.0" y="429.7" width="32.3" height="8.0" rx="4.0" fill="#5a5a5a" opacity="1" filter="url(#bl3)"/><rect x="475.4" y="429.2" width="30.2" height="7.6" rx="3.8" fill="#5a5a5a" opacity="1" filter="url(#bl3)"/><rect x="512.7" y="430.2" width="27.8" height="9.6" rx="4.8" fill="#5a5a5a" opacity="1" filter="url(#bl3)"/><rect x="545.6" y="430.4" width="27.7" height="8.6" rx="4.3" fill="#5a5a5a" opacity="1" filter="url(#bl3)"/><rect x="579.3" y="430.2" width="26.3" height="7.0" rx="3.5" fill="#5a5a5a" opacity="1" filter="url(#bl3)"/><rect x="610.6" y="429.9" width="32.3" height="7.6" rx="3.8" fill="#5a5a5a" opacity="1" filter="url(#bl3)"/></g>
<text x="653.3" y="371.4" font-size="8" class="b" fill="#111">P-PMK-1</text><text x="653.3" y="405.6" font-size="8" class="b" fill="#111">PMK-1</text><text x="653.3" y="433.9" font-size="8" class="b" fill="#111">ACTIN</text>
</g>
</svg>
</body></html>
